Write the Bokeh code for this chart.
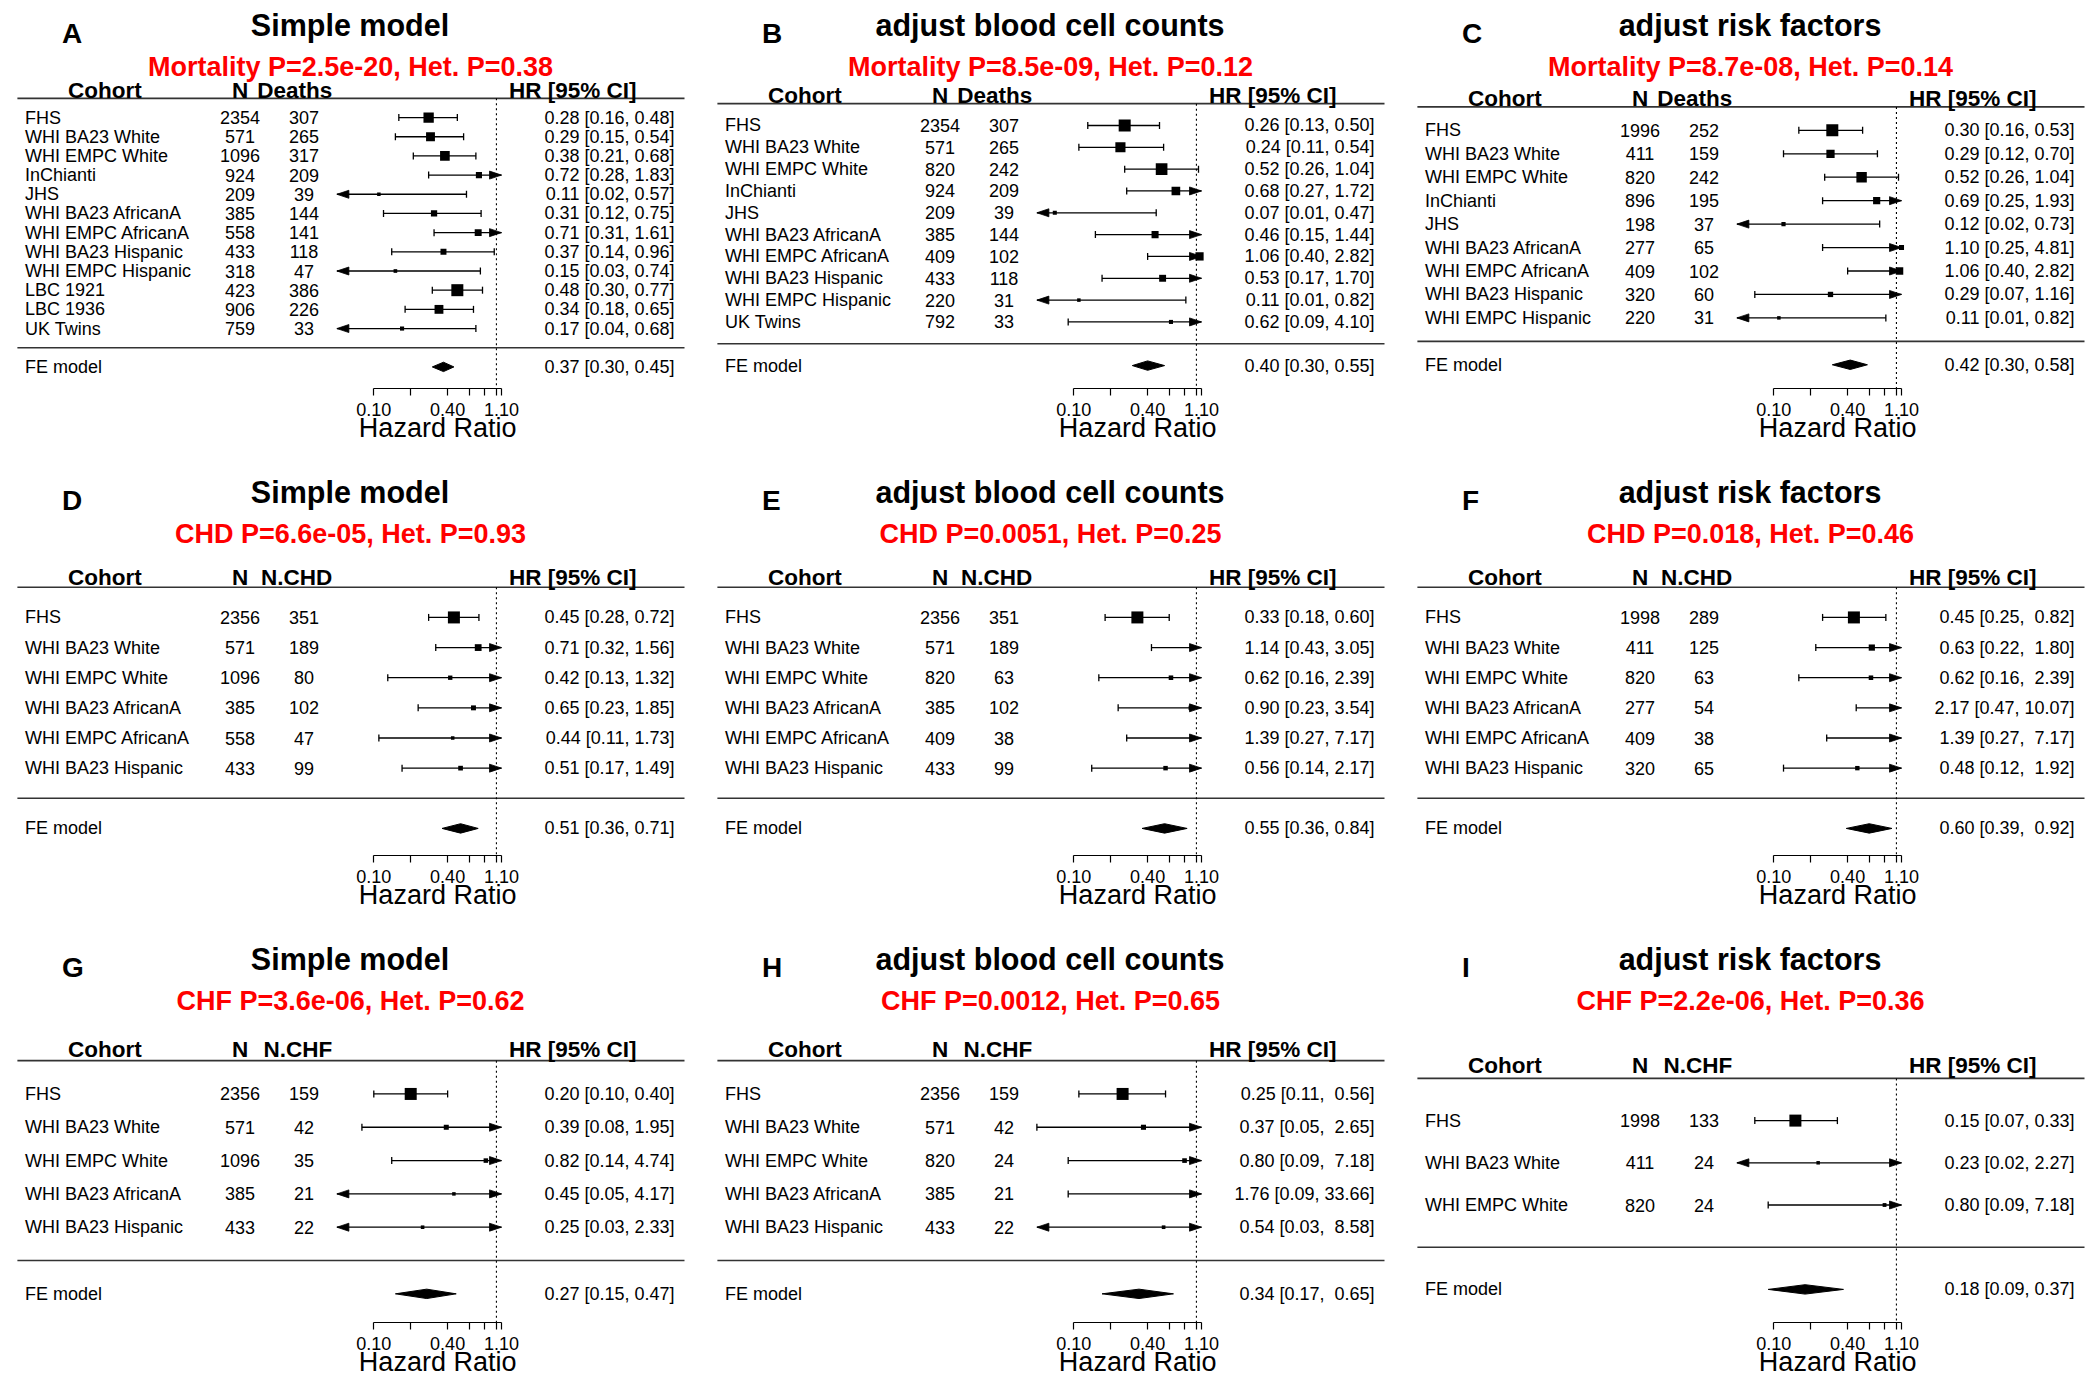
import math
from bokeh.plotting import figure
from bokeh.models import Range1d, FixedTicker, CustomJSTickFormatter
from bokeh.layouts import row, column
from bokeh.core.properties import value
from bokeh.embed import file_html
from bokeh.resources import INLINE

FONT = "Liberation Sans"

# ---------------- data ----------------
A_cohort = ["FHS", "WHI BA23 White", "WHI EMPC White", "InChianti", "JHS", "WHI BA23 AfricanA",
            "WHI EMPC AfricanA", "WHI BA23 Hispanic", "WHI EMPC Hispanic", "LBC 1921", "LBC 1936", "UK Twins"]
A_n = [2354, 571, 1096, 924, 209, 385, 558, 433, 318, 423, 906, 759]
A_events = [307, 265, 317, 209, 39, 144, 141, 118, 47, 386, 226, 33]
A_hr = [0.28, 0.29, 0.38, 0.72, 0.11, 0.31, 0.71, 0.37, 0.15, 0.48, 0.34, 0.17]
A_lo = [0.16, 0.15, 0.21, 0.28, 0.02, 0.12, 0.31, 0.14, 0.03, 0.30, 0.18, 0.04]
A_hi = [0.48, 0.54, 0.68, 1.83, 0.57, 0.75, 1.61, 0.96, 0.74, 0.77, 0.65, 0.68]
A_fe = [0.37, 0.30, 0.45]

B_cohort = ["FHS", "WHI BA23 White", "WHI EMPC White", "InChianti", "JHS", "WHI BA23 AfricanA",
            "WHI EMPC AfricanA", "WHI BA23 Hispanic", "WHI EMPC Hispanic", "UK Twins"]
B_n = [2354, 571, 820, 924, 209, 385, 409, 433, 220, 792]
B_events = [307, 265, 242, 209, 39, 144, 102, 118, 31, 33]
B_hr = [0.26, 0.24, 0.52, 0.68, 0.07, 0.46, 1.06, 0.53, 0.11, 0.62]
B_lo = [0.13, 0.11, 0.26, 0.27, 0.01, 0.15, 0.40, 0.17, 0.01, 0.09]
B_hi = [0.50, 0.54, 1.04, 1.72, 0.47, 1.44, 2.82, 1.70, 0.82, 4.10]
B_fe = [0.40, 0.30, 0.55]

C_cohort = ["FHS", "WHI BA23 White", "WHI EMPC White", "InChianti", "JHS", "WHI BA23 AfricanA",
            "WHI EMPC AfricanA", "WHI BA23 Hispanic", "WHI EMPC Hispanic"]
C_n = [1996, 411, 820, 896, 198, 277, 409, 320, 220]
C_events = [252, 159, 242, 195, 37, 65, 102, 60, 31]
C_hr = [0.30, 0.29, 0.52, 0.69, 0.12, 1.10, 1.06, 0.29, 0.11]
C_lo = [0.16, 0.12, 0.26, 0.25, 0.02, 0.25, 0.40, 0.07, 0.01]
C_hi = [0.53, 0.70, 1.04, 1.93, 0.73, 4.81, 2.82, 1.16, 0.82]
C_fe = [0.42, 0.30, 0.58]

D_cohort = ["FHS", "WHI BA23 White", "WHI EMPC White", "WHI BA23 AfricanA", "WHI EMPC AfricanA", "WHI BA23 Hispanic"]
D_n = [2356, 571, 1096, 385, 558, 433]
D_events = [351, 189, 80, 102, 47, 99]
D_hr = [0.45, 0.71, 0.42, 0.65, 0.44, 0.51]
D_lo = [0.28, 0.32, 0.13, 0.23, 0.11, 0.17]
D_hi = [0.72, 1.56, 1.32, 1.85, 1.73, 1.49]
D_fe = [0.51, 0.36, 0.71]

E_cohort = ["FHS", "WHI BA23 White", "WHI EMPC White", "WHI BA23 AfricanA", "WHI EMPC AfricanA", "WHI BA23 Hispanic"]
E_n = [2356, 571, 820, 385, 409, 433]
E_events = [351, 189, 63, 102, 38, 99]
E_hr = [0.33, 1.14, 0.62, 0.90, 1.39, 0.56]
E_lo = [0.18, 0.43, 0.16, 0.23, 0.27, 0.14]
E_hi = [0.60, 3.05, 2.39, 3.54, 7.17, 2.17]
E_fe = [0.55, 0.36, 0.84]

F_cohort = ["FHS", "WHI BA23 White", "WHI EMPC White", "WHI BA23 AfricanA", "WHI EMPC AfricanA", "WHI BA23 Hispanic"]
F_n = [1998, 411, 820, 277, 409, 320]
F_events = [289, 125, 63, 54, 38, 65]
F_hr = [0.45, 0.63, 0.62, 2.17, 1.39, 0.48]
F_lo = [0.25, 0.22, 0.16, 0.47, 0.27, 0.12]
F_hi = [0.82, 1.80, 2.39, 10.07, 7.17, 1.92]
F_fe = [0.60, 0.39, 0.92]

G_cohort = ["FHS", "WHI BA23 White", "WHI EMPC White", "WHI BA23 AfricanA", "WHI BA23 Hispanic"]
G_n = [2356, 571, 1096, 385, 433]
G_events = [159, 42, 35, 21, 22]
G_hr = [0.20, 0.39, 0.82, 0.45, 0.25]
G_lo = [0.10, 0.08, 0.14, 0.049, 0.03]
G_hi = [0.40, 1.95, 4.74, 4.17, 2.33]
G_fe = [0.27, 0.15, 0.47]

H_cohort = ["FHS", "WHI BA23 White", "WHI EMPC White", "WHI BA23 AfricanA", "WHI BA23 Hispanic"]
H_n = [2356, 571, 820, 385, 433]
H_events = [159, 42, 24, 21, 22]
H_hr = [0.25, 0.37, 0.80, 1.76, 0.54]
H_lo = [0.11, 0.05, 0.09, 0.09, 0.03]
H_hi = [0.56, 2.65, 7.18, 33.66, 8.58]
H_fe = [0.34, 0.17, 0.65]

I_cohort = ["FHS", "WHI BA23 White", "WHI EMPC White"]
I_n = [1998, 411, 820]
I_events = [133, 24, 24]
I_hr = [0.15, 0.23, 0.80]
I_lo = [0.07, 0.02, 0.09]
I_hi = [0.33, 2.27, 7.18]
I_fe = [0.18, 0.09, 0.37]

letters = ["A", "B", "C", "D", "E", "F", "G", "H", "I"]
titles = ["Simple model", "adjust blood cell counts", "adjust risk factors"] * 3
subtitles = ["Mortality P=2.5e-20, Het. P=0.38", "Mortality P=8.5e-09, Het. P=0.12",
             "Mortality P=8.7e-08, Het. P=0.14",
             "CHD P=6.6e-05, Het. P=0.93", "CHD P=0.0051, Het. P=0.25", "CHD P=0.018, Het. P=0.46",
             "CHF P=3.6e-06, Het. P=0.62", "CHF P=0.0012, Het. P=0.65", "CHF P=2.2e-06, Het. P=0.36"]
event_headers = ["Deaths"] * 3 + ["N.CHD"] * 3 + ["N.CHF"] * 3
pooled_label = "FE model"
col_headers = ["Cohort", "N"]
hr_header = "HR [95% CI]"
axis_title = "Hazard Ratio"
axis_ticks = [0.1, 0.2, 0.4, 0.6, 0.8, 1.0, 1.1]
axis_tick_labels = {"0.1": "0.10", "0.4": "0.40", "1.1": "1.10"}

panel_data = [
    (A_cohort, A_n, A_events, A_hr, A_lo, A_hi, A_fe),
    (B_cohort, B_n, B_events, B_hr, B_lo, B_hi, B_fe),
    (C_cohort, C_n, C_events, C_hr, C_lo, C_hi, C_fe),
    (D_cohort, D_n, D_events, D_hr, D_lo, D_hi, D_fe),
    (E_cohort, E_n, E_events, E_hr, E_lo, E_hi, E_fe),
    (F_cohort, F_n, F_events, F_hr, F_lo, F_hi, F_fe),
    (G_cohort, G_n, G_events, G_hr, G_lo, G_hi, G_fe),
    (H_cohort, H_n, H_events, H_hr, H_lo, H_hi, H_fe),
    (I_cohort, I_n, I_events, I_hr, I_lo, I_hi, I_fe),
]

# ---------------- layout constants (pixels, reference panel 700 x 467) ----------------
AX_LO, AX_HI, CLIP_LO = 0.10, 1.10, 0.05
PX_AX_LO, PX_AX_HI = 373.3, 501.0
SCALE = (PX_AX_HI - PX_AX_LO) / math.log(AX_HI / AX_LO)
PX_TOP, PX_BOT = 59.5, 376.0     # pixel rows for y = k+3 and y = -1.5
AXIS_PX = 388.0

COL_W = [700, 700, 699]
ROW_H = [467, 467, 465]


def fmt_ci(vals):
    s = ["%.2f" % v for v in vals]
    w = max(len(t) for t in s)
    return [("\u00a0" * (w - len(t))) + t for t in s]


def make_panel(idx, W, H):
    cohort, n, ev, hr, lo, hi, fe = panel_data[idx]
    k = len(cohort)
    unit = (PX_BOT - PX_TOP) / (k + 4.5)

    def ydat(px):
        return (k + 3) - (px - PX_TOP) / unit

    def xdat(px):
        return AX_LO * math.exp((px - PX_AX_LO) / SCALE)

    y_axis = ydat(AXIS_PX)
    p = figure(width=W, height=H, x_axis_type="log",
               x_range=Range1d(xdat(0), xdat(W)),
               y_range=Range1d(ydat(H), ydat(0)),
               output_backend="svg", toolbar_location=None,
               min_border_left=0, min_border_right=0, min_border_top=0,
               min_border_bottom=0, y_axis_location=None)
    p.xgrid.visible = False
    p.ygrid.visible = False
    p.outline_line_color = None
    p.background_fill_color = "white"
    p.border_fill_color = "white"

    ys = [k - i for i in range(k)]

    # horizontal rules and reference line
    p.segment(x0=[xdat(16.9)] * 2, x1=[xdat(684)] * 2, y0=[k + 1, 0], y1=[k + 1, 0],
              line_color="#333333", line_width=1.6)
    p.segment(x0=[1.0], x1=[1.0], y0=[k + 1], y1=[y_axis], line_color="black",
              line_width=1.1, line_dash="2 3")

    # confidence intervals
    lo_c = [max(v, CLIP_LO) for v in lo]
    hi_c = [min(v, AX_HI) for v in hi]
    p.segment(x0=lo_c, x1=hi_c, y0=ys, y1=ys, line_color="black", line_width=1.3)
    cap_x = [v for v in lo if v >= CLIP_LO] + [v for v in hi if v <= AX_HI]
    cap_y = [y for v, y in zip(lo, ys) if v >= CLIP_LO] + [y for v, y in zip(hi, ys) if v <= AX_HI]
    p.scatter(x=cap_x, y=cap_y, marker="dash", angle=math.pi / 2, size=7,
              line_color="black", line_width=1.3)

    # arrow heads at clipped ends
    hl, hw = 12.0, 4.0
    axs, ays = [], []
    for v, y in zip(hi, ys):
        if v > AX_HI:
            b = AX_HI * math.exp(-hl / SCALE)
            axs.append([AX_HI, b, b])
            ays.append([y, y + hw / unit, y - hw / unit])
    for v, y in zip(lo, ys):
        if v < CLIP_LO:
            b = CLIP_LO * math.exp(hl / SCALE)
            axs.append([CLIP_LO, b, b])
            ays.append([y, y + hw / unit, y - hw / unit])
    if axs:
        p.patches(xs=axs, ys=ays, fill_color="black", line_color="black", line_width=0.8)

    # point estimates sized by precision
    wts = [1.0 / ((math.log(u) - math.log(l)) / (2 * 1.96)) for l, u in zip(lo, hi)]
    wmin, wmax = min(wts), max(wts)
    sizes = [3.5 + (w - wmin) / (wmax - wmin) * 8.5 for w in wts]
    bx = [h for h in hr if CLIP_LO <= h <= AX_HI]
    by = [y for h, y in zip(hr, ys) if CLIP_LO <= h <= AX_HI]
    bs = [s for h, s in zip(hr, sizes) if CLIP_LO <= h <= AX_HI]
    p.scatter(x=bx, y=by, size=bs, marker="square", fill_color="black", line_color=None)

    # pooled diamond
    dh = 4.7 / unit
    p.patch(x=[fe[1], fe[0], fe[2], fe[0]], y=[-1, -1 + dh, -1, -1 - dh],
            fill_color="black", line_color="black", line_width=1)

    base = dict(text_font=value(FONT), text_color="black", text_baseline="middle")
    # row texts
    p.text(x=[xdat(24.5)] * (k + 1), y=ys + [-1], text=cohort + [pooled_label],
           text_font_size="18px", text_align="left", **base)
    p.text(x=[xdat(239.5)] * k, y=ys, text=[str(v) for v in n],
           text_font_size="18px", text_align="center", **base)
    p.text(x=[xdat(303.5)] * k, y=ys, text=[str(v) for v in ev],
           text_font_size="18px", text_align="center", **base)
    e_s = fmt_ci(hr + [fe[0]])
    l_s = fmt_ci(lo + [fe[1]])
    u_s = fmt_ci(hi + [fe[2]])
    ci_txt = ["%s [%s, %s]" % (a, b, c) for a, b, c in zip(e_s, l_s, u_s)]
    p.text(x=[xdat(674)] * (k + 1), y=ys + [-1], text=ci_txt,
           text_font_size="18px", text_align="right", **base)

    # header
    hdr = dict(text_font_size="22.5px", text_font_style="bold", y_offset=-4, **base)
    p.text(x=[xdat(104.3), xdat(239.5)], y=[k + 1.2] * 2, text=col_headers,
           text_align="center", **hdr)
    p.text(x=[xdat(331.8), xdat(636)], y=[k + 1.2] * 2, text=[event_headers[idx], hr_header],
           text_align="right", **hdr)

    # titles
    p.text(x=[xdat(61.6)], y=[ydat(33)], text=[letters[idx]], text_font_size="28px",
           text_font_style="bold", text_align="left", **base)
    p.text(x=[xdat(349.5)], y=[ydat(24)], text=[titles[idx]], text_font_size="30.5px",
           text_font_style="bold", text_align="center", **base)
    p.text(x=[xdat(350)], y=[ydat(66.3)], text=[subtitles[idx]], text_font_size="27px",
           text_font_style="bold", text_align="center", text_font=value(FONT),
           text_color="#FF0000", text_baseline="middle")

    # axis title centred on the axis span
    p.text(x=[math.sqrt(AX_LO * AX_HI)], y=[ydat(427.8)], text=[axis_title],
           text_font_size="27px", text_align="center", **base)

    # axis drawn at its fixed position inside the panel
    ax = p.xaxis[0]
    ax.fixed_location = y_axis
    ax.ticker = FixedTicker(ticks=axis_ticks, minor_ticks=[])
    ax.formatter = CustomJSTickFormatter(args=dict(labs=axis_tick_labels), code="""
        const key = String(Math.round(tick * 10) / 10);
        return (key in labs) ? labs[key] : "";
    """)
    ax.bounds = (AX_LO, AX_HI)
    ax.major_tick_out = 7
    ax.major_tick_in = 0
    ax.minor_tick_out = 0
    ax.minor_tick_in = 0
    ax.axis_line_color = "black"
    ax.axis_line_width = 1.2
    ax.major_tick_line_color = "black"
    ax.major_tick_line_width = 1.2
    ax.major_label_text_font = FONT
    ax.major_label_text_font_size = "18px"
    ax.major_label_text_color = "black"
    ax.major_label_standoff = 7
    return p


rows = []
for r in range(3):
    figs = [make_panel(r * 3 + c, COL_W[c], ROW_H[r]) for c in range(3)]
    rows.append(row(*figs, spacing=0))
layout = column(*rows, spacing=0)

open("out.html", "w").write(file_html(layout, INLINE))
